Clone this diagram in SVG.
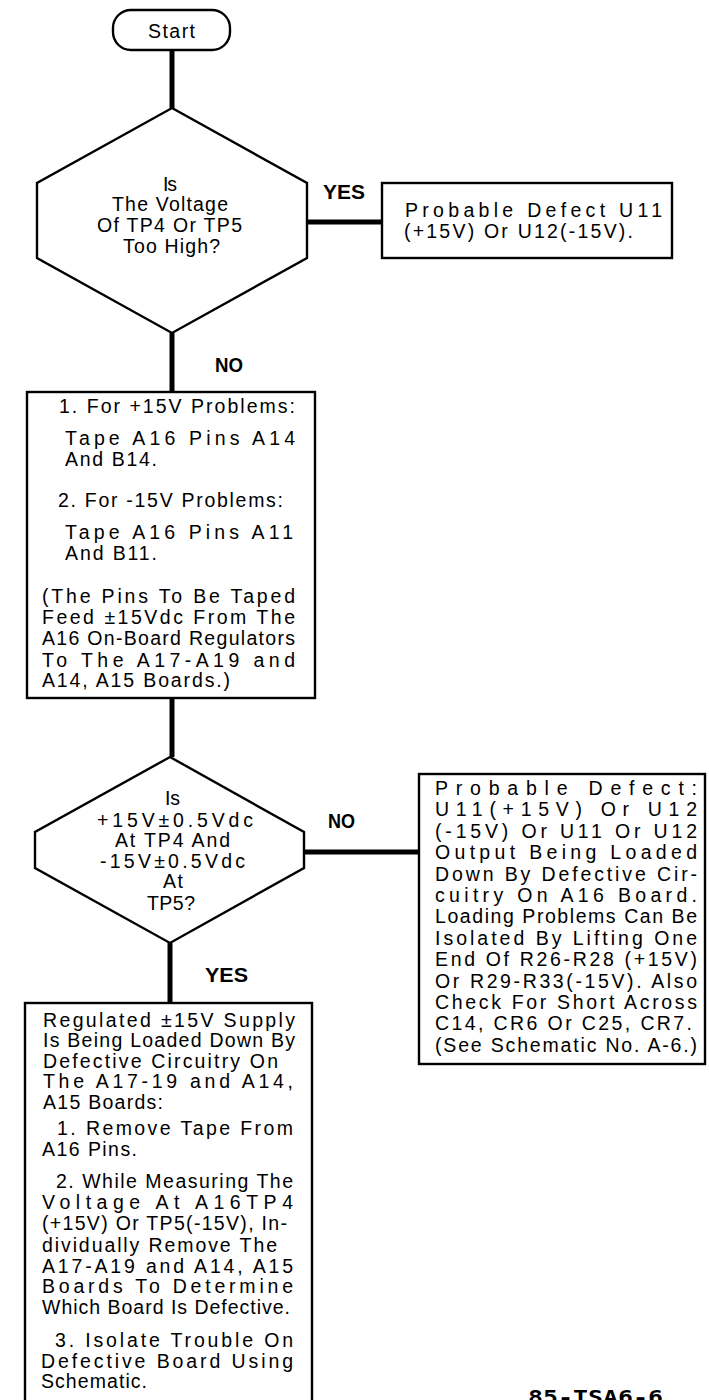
<svg xmlns="http://www.w3.org/2000/svg" width="709" height="1400" viewBox="0 0 709 1400">
<style>
.shape{fill:#fff;stroke:#000;stroke-width:2.4}
.conn{stroke:#000;stroke-width:5;fill:none}
.t{font-family:"Liberation Sans",Arial,sans-serif;font-size:19.5px;fill:#000}
.lbl{font-family:"Liberation Sans",Arial,sans-serif;font-weight:bold;font-size:21px;fill:#000}
.id{font-family:"DejaVu Sans Mono","Liberation Mono",monospace;font-weight:bold;font-size:20px;fill:#000}
</style>
<rect width="709" height="1400" fill="#fff"/>
<g id="connectors">
<line class="conn" x1="172" y1="50" x2="172" y2="108"/>
<line class="conn" x1="307" y1="222" x2="382" y2="222"/>
<line class="conn" x1="172" y1="333" x2="172" y2="392"/>
<line class="conn" x1="172" y1="698" x2="172" y2="757"/>
<line class="conn" x1="304" y1="852" x2="419" y2="852"/>
<line class="conn" x1="170" y1="943" x2="170" y2="1003"/>
<text class="lbl" x="323" y="199" textLength="42" lengthAdjust="spacingAndGlyphs">YES</text>
<text class="lbl" x="215" y="372" textLength="28" lengthAdjust="spacingAndGlyphs">NO</text>
<text class="lbl" x="328" y="828" textLength="27" lengthAdjust="spacingAndGlyphs">NO</text>
<text class="lbl" x="205" y="982" textLength="43" lengthAdjust="spacingAndGlyphs">YES</text>
</g>
<g id="start">
<rect class="shape" x="113" y="10" width="117" height="40" rx="18"/>
<text class="t" x="148" y="38" textLength="47" lengthAdjust="spacing">Start</text>
</g>
<g id="decision1">
<polygon class="shape" points="172,108 307,183 307,258 172,333 37,258 37,183"/>
<text class="t" x="163" y="191" textLength="14" lengthAdjust="spacing">Is</text>
<text class="t" x="112" y="211" textLength="116" lengthAdjust="spacing">The Voltage</text>
<text class="t" x="97" y="232" textLength="145" lengthAdjust="spacing">Of TP4 Or TP5</text>
<text class="t" x="123" y="253" textLength="97" lengthAdjust="spacing">Too High?</text>
</g>
<g id="defect1">
<rect class="shape" x="382" y="183" width="290" height="75"/>
<text class="t" x="405" y="217" textLength="257" lengthAdjust="spacing">Probable Defect U11</text>
<text class="t" x="404" y="238" textLength="229" lengthAdjust="spacing">(+15V) Or U12(-15V).</text>
</g>
<g id="tape">
<rect class="shape" x="27" y="392" width="288" height="306"/>
<text class="t" x="59" y="413" textLength="236" lengthAdjust="spacing">1.  For +15V Problems:</text>
<text class="t" x="65" y="445" textLength="230" lengthAdjust="spacing">Tape A16 Pins A14</text>
<text class="t" x="65" y="466" textLength="92" lengthAdjust="spacing">And B14.</text>
<text class="t" x="58" y="507" textLength="225" lengthAdjust="spacing">2.  For -15V Problems:</text>
<text class="t" x="65" y="539" textLength="228" lengthAdjust="spacing">Tape A16 Pins A11</text>
<text class="t" x="65" y="560" textLength="92" lengthAdjust="spacing">And B11.</text>
<text class="t" x="42" y="603" textLength="253" lengthAdjust="spacing">(The Pins To Be Taped</text>
<text class="t" x="42" y="624" textLength="253" lengthAdjust="spacing">Feed ±15Vdc From The</text>
<text class="t" x="42" y="645" textLength="253" lengthAdjust="spacing">A16 On-Board Regulators</text>
<text class="t" x="42" y="667" textLength="253" lengthAdjust="spacing">To The A17-A19 and</text>
<text class="t" x="42" y="687" textLength="188" lengthAdjust="spacing">A14, A15 Boards.)</text>
</g>
<g id="decision2">
<polygon class="shape" points="170,757 304,832 304,868 170,943 35,868 35,832"/>
<text class="t" x="165" y="805" textLength="15" lengthAdjust="spacing">Is</text>
<text class="t" x="97" y="827" textLength="156" lengthAdjust="spacing">+15V±0.5Vdc</text>
<text class="t" x="115" y="847" textLength="115" lengthAdjust="spacing">At TP4 And</text>
<text class="t" x="100" y="868" textLength="145" lengthAdjust="spacing">-15V±0.5Vdc</text>
<text class="t" x="163" y="888" textLength="20" lengthAdjust="spacing">At</text>
<text class="t" x="147" y="910" textLength="48" lengthAdjust="spacing">TP5?</text>
</g>
<g id="defect2">
<rect class="shape" x="419" y="774" width="286" height="290"/>
<text class="t" x="435" y="795" textLength="262" lengthAdjust="spacing">Probable Defect:</text>
<text class="t" x="435" y="816" textLength="262" lengthAdjust="spacing">U11(+15V) Or U12</text>
<text class="t" x="435" y="838" textLength="262" lengthAdjust="spacing">(-15V) Or U11 Or U12</text>
<text class="t" x="435" y="859" textLength="262" lengthAdjust="spacing">Output Being Loaded</text>
<text class="t" x="435" y="881" textLength="262" lengthAdjust="spacing">Down By Defective Cir-</text>
<text class="t" x="435" y="902" textLength="262" lengthAdjust="spacing">cuitry On A16 Board.</text>
<text class="t" x="435" y="923" textLength="262" lengthAdjust="spacing">Loading Problems Can Be</text>
<text class="t" x="435" y="945" textLength="262" lengthAdjust="spacing">Isolated By Lifting One</text>
<text class="t" x="435" y="966" textLength="262" lengthAdjust="spacing">End Of R26-R28 (+15V)</text>
<text class="t" x="435" y="988" textLength="262" lengthAdjust="spacing">Or R29-R33(-15V). Also</text>
<text class="t" x="435" y="1009" textLength="262" lengthAdjust="spacing">Check For Short Across</text>
<text class="t" x="435" y="1030" textLength="257" lengthAdjust="spacing">C14, CR6 Or C25, CR7.</text>
<text class="t" x="435" y="1052" textLength="262" lengthAdjust="spacing">(See Schematic No. A-6.)</text>
</g>
<g id="loaded">
<rect class="shape" x="25" y="1003" width="287" height="420"/>
<text class="t" x="43" y="1027" textLength="252" lengthAdjust="spacing">Regulated ±15V Supply</text>
<text class="t" x="43" y="1047" textLength="252" lengthAdjust="spacing">Is Being Loaded Down By</text>
<text class="t" x="43" y="1068" textLength="235" lengthAdjust="spacing">Defective Circuitry On</text>
<text class="t" x="43" y="1088" textLength="250" lengthAdjust="spacing">The A17-19 and A14,</text>
<text class="t" x="43" y="1109" textLength="120" lengthAdjust="spacing">A15 Boards:</text>
<text class="t" x="57" y="1135" textLength="236" lengthAdjust="spacing">1. Remove Tape From</text>
<text class="t" x="42" y="1156" textLength="95" lengthAdjust="spacing">A16 Pins.</text>
<text class="t" x="56" y="1188" textLength="237" lengthAdjust="spacing">2. While Measuring The</text>
<text class="t" x="42" y="1209" textLength="251" lengthAdjust="spacing">Voltage At A16TP4</text>
<text class="t" x="42" y="1230" textLength="245" lengthAdjust="spacing">(+15V) Or TP5(-15V), In-</text>
<text class="t" x="42" y="1252" textLength="235" lengthAdjust="spacing">dividually Remove The</text>
<text class="t" x="42" y="1273" textLength="251" lengthAdjust="spacing">A17-A19 and A14, A15</text>
<text class="t" x="42" y="1293" textLength="251" lengthAdjust="spacing">Boards To Determine</text>
<text class="t" x="42" y="1314" textLength="248" lengthAdjust="spacing">Which Board Is Defective.</text>
<text class="t" x="55" y="1347" textLength="238" lengthAdjust="spacing">3. Isolate Trouble On</text>
<text class="t" x="41" y="1368" textLength="252" lengthAdjust="spacing">Defective Board Using</text>
<text class="t" x="41" y="1388" textLength="106" lengthAdjust="spacing">Schematic.</text>
</g>
<g id="figure-id">
<text class="id" x="528" y="1404" textLength="135" lengthAdjust="spacingAndGlyphs">85-TSA6-6</text>
</g>
</svg>
